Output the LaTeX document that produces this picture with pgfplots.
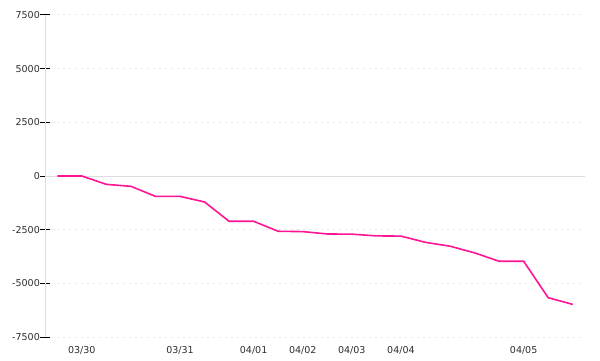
\documentclass[border=0pt]{standalone}
\usepackage{fontspec}
\setmainfont{DejaVu Sans}
\usepackage{pgfplots}
\pgfplotsset{compat=1.18}
\definecolor{linepink}{HTML}{FF1493}
\definecolor{gridgray}{HTML}{E8E8E8}
\definecolor{axgray}{HTML}{DDDDDD}
\begin{document}
\begin{tikzpicture}[x=1bp,y=1bp]
\path[use as bounding box] (0,0) rectangle (600,360);
\begin{axis}[
  at={(45bp,23bp)}, anchor=south west,
  scale only axis, width=540bp, height=322bp,
  xmin=-0.5, xmax=21.5, ymin=-7500, ymax=7500,
  ytick={-7500,-5000,-2500,0,2500,5000,7500},
  yticklabels={-7500,-5000,-2500,0,2500,5000,7500},
  xtick={1,5,8,10,12,14,19},
  xticklabels={03/30,03/31,04/01,04/02,04/03,04/04,04/05},
  axis x line*=bottom, axis y line*=left,
  x axis line style={draw=none},
  y axis line style={draw=axgray, line width=1bp, -},
  ymajorgrids,
  major grid style={dash pattern=on 2bp off 4bp, color=gridgray, line width=1bp},
  tick align=center,
  major tick length=10bp,
  ytick style={black, line width=1bp},
  xtick style={draw=none},
  ticklabel style={font=\fontsize{9.5bp}{11bp}\selectfont, text=black!82},
  yticklabel style={inner sep=0pt},
  xticklabel style={inner sep=0pt, yshift=-4bp},
  clip=false,
]
\draw[axgray, line width=1bp] (axis cs:-0.5,0) -- (axis cs:21.5,0);
\addplot[linepink, line width=1.6bp, no markers] coordinates {
(0,0) (1,0) (2,-390) (3,-480) (4,-950) (5,-950) (6,-1210) (7,-2110)
(8,-2110) (9,-2575) (10,-2590) (11,-2700) (12,-2710) (13,-2790)
(14,-2800) (15,-3090) (16,-3270) (17,-3580) (18,-3970) (19,-3970)
(20,-5670) (21,-5980)
};
\end{axis}
\end{tikzpicture}
\end{document}
